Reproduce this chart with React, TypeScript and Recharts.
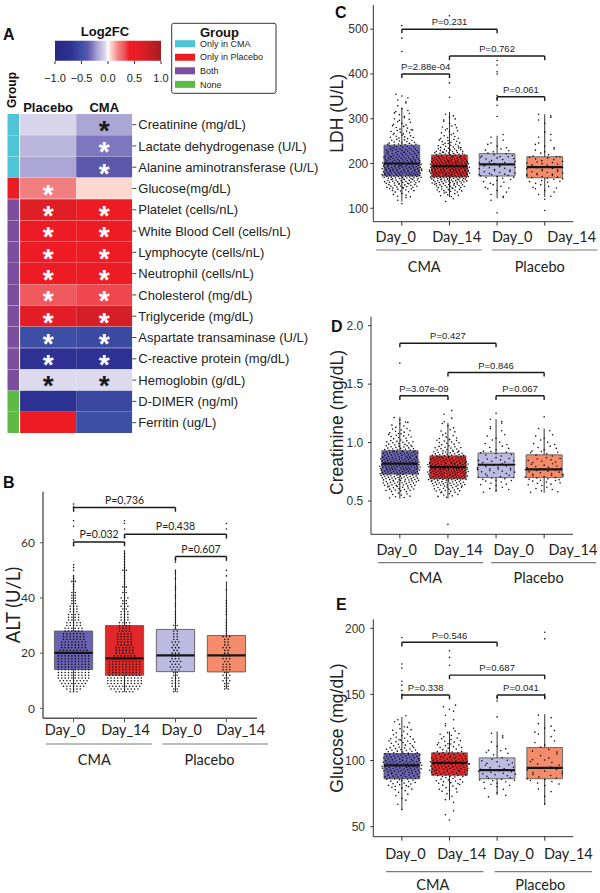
import React from 'react';
import {
  ComposedChart, BarChart, Bar, Cell, XAxis, YAxis, Scatter,
  ReferenceArea, ReferenceLine, LabelList,
} from 'recharts';

/* ================= Panel A : heatmap data ================= */
const heatRows = [
  'Creatinine (mg/dL)', 'Lactate dehydrogenase (U/L)', 'Alanine aminotransferase (U/L)',
  'Glucose(mg/dL)', 'Platelet (cells/nL)', 'White Blood Cell (cells/nL)', 'Lymphocyte (cells/nL)',
  'Neutrophil (cells/nL)', 'Cholesterol (mg/dL)', 'Triglyceride (mg/dL)',
  'Aspartate transaminase (U/L)', 'C-reactive protein (mg/dL)', 'Hemoglobin (g/dL)',
  'D-DIMER (ng/ml)', 'Ferritin (ug/L)',
];
const heatGroup = ['CMA', 'CMA', 'CMA', 'Placebo', 'Both', 'Both', 'Both', 'Both', 'Both', 'Both', 'Both', 'Both', 'Both', 'None', 'None'];
const placeboLog2FC = [-0.065, -0.15, -0.2, 0.2, 0.62, 0.45, 0.45, 0.45, 0.3, 0.58, -0.5, -0.7, -0.05, -0.72, 0.45];
const cmaLog2FC = [-0.2, -0.3, -0.38, 0.05, 0.45, 0.45, 0.45, 0.45, 0.33, 0.7, -0.53, -0.72, -0.05, -0.55, -0.5];
const placeboSig = [false, false, false, true, true, true, true, true, true, true, true, true, true, false, false];
const cmaSig = [true, true, true, false, true, true, true, true, true, true, true, true, true, false, false];
const heatColumns = ['Placebo', 'CMA'];
const legendKeys = ['CMA', 'Placebo', 'Both', 'None'];
const legendLabels = ['Only in CMA', 'Only in Placebo', 'Both', 'None'];
const colorbarTicks = [-1, -0.5, 0, 0.5, 1];

/* ================= Panels B-E : box plot data ================= */
const dayLabels = ['Day_0', 'Day_14', 'Day_0', 'Day_14'];
const armLabels = ['CMA', 'Placebo'];

// B  ALT (U/L)
const altQ1 = [14.1, 12, 13.3, 13.2];
const altMedian = [20.1, 18.1, 19.2, 19.2];
const altQ3 = [28, 30, 28.6, 26.4];
const altLow = [6, 6, 6, 7];
const altHigh = [48, 57, 50, 46];
const altCmaDay0 = [[6,3],[7,5],[8,7],[9,8],[10,9],[11,10],[12,10],[13,10],[14,10],[15,10],[16,10],[17,10],[18,10],[19,10],[20,9],[21,9],[22,8],[23,8],[24,8],[25,7],[26,7],[27,7],[28,6],[29,6],[30,5],[31,5],[32,4],[33,4],[34,4],[35,3],[36,3],[37,3],[38,2],[39,2],[40,2],[41,2],[42,2],[43,1],[44,1],[45,1],[46,2],[47,1],[48,1],[50,1],[51,1],[52,1],[59,1],[61,1],[66,1],[68,1],[73,1],[74,1]];
const altCmaDay14 = [[6,6],[7,9],[8,10],[9,11],[10,11],[11,11],[12,10],[13,10],[14,10],[15,10],[16,10],[17,10],[18,7],[19,7],[20,6],[21,6],[22,6],[23,5],[24,5],[25,5],[26,5],[27,5],[28,4],[29,4],[30,4],[31,4],[32,3],[33,3],[34,3],[35,3],[36,2],[37,3],[38,2],[39,2],[40,3],[41,1],[42,2],[43,1],[44,2],[45,1],[46,1],[47,1],[48,1],[49,1],[50,2],[51,1],[52,1],[53,1],[54,1],[55,1],[56,1],[57,1],[60,1],[62,1],[65,1],[67,1],[68,1]];
const altPlaceboDay0 = [[6,2],[7,2],[8,3],[9,3],[10,3],[11,3],[12,2],[13,2],[14,3],[15,4],[16,3],[17,4],[18,3],[19,3],[20,3],[21,2],[22,3],[23,2],[24,3],[25,2],[26,2],[27,2],[28,2],[29,1],[30,2],[31,1],[32,1],[33,1],[34,1],[35,1],[37,1],[38,1],[40,1],[41,1],[43,1],[44,1],[47,1],[49,1],[50,1],[53,1],[54,1]];
const altPlaceboDay14 = [[7,2],[8,2],[9,2],[10,3],[11,2],[12,3],[13,2],[14,3],[15,3],[16,3],[17,2],[18,3],[19,3],[20,2],[21,2],[22,3],[23,2],[24,2],[25,2],[26,3],[27,1],[28,1],[29,1],[30,1],[31,1],[32,1],[34,1],[35,1],[36,1],[37,1],[38,1],[39,1],[43,1],[48,1],[50,1],[65,1],[67,1]];

// C  LDH (U/L)
const ldhQ1 = [172, 170, 172, 168];
const ldhMedian = [200, 194, 198, 192];
const ldhQ3 = [241, 219, 222, 215];
const ldhLow = [115, 125, 122, 125];
const ldhHigh = [325, 315, 262, 310];
const ldhCmaDay0 = [[110,1],[120,2],[130,5],[140,10],[150,16],[160,22],[170,28],[180,30],[190,30],[200,28],[210,24],[220,20],[230,17],[240,14],[250,11],[260,9],[270,8],[280,6],[290,5],[300,4],[310,4],[320,3],[330,2],[340,2],[350,3],[450,1],[480,1],[508,1]];
const ldhCmaDay14 = [[120,2],[130,6],[140,12],[150,18],[160,26],[170,32],[180,36],[190,36],[200,32],[210,26],[220,18],[230,14],[240,10],[250,8],[260,6],[270,5],[280,4],[290,3],[300,3],[310,2],[348,1],[380,1],[530,1]];
const ldhPlaceboDay0 = [[90,1],[120,2],[130,2],[140,3],[150,4],[160,5],[170,7],[180,8],[190,8],[200,8],[210,7],[220,6],[230,4],[240,3],[250,2],[260,2],[305,1],[330,1],[345,1],[352,1],[400,1],[405,1],[420,1],[430,1]];
const ldhPlaceboDay14 = [[95,1],[120,1],[130,2],[140,3],[150,4],[160,6],[170,8],[180,8],[190,8],[200,8],[210,6],[220,4],[230,3],[240,3],[250,2],[260,2],[270,1],[290,1],[300,2],[310,2]];

// D  Creatinine (mg/dL)
const creQ1 = [0.73, 0.69, 0.70, 0.70];
const creMedian = [0.82, 0.79, 0.81, 0.77];
const creQ3 = [0.93, 0.886, 0.91, 0.895];
const creLow = [0.52, 0.52, 0.58, 0.57];
const creHigh = [1.22, 1.17, 1.2, 1.12];
const creCmaDay0 = [[0.55,8],[0.6,16],[0.65,24],[0.7,32],[0.75,36],[0.8,38],[0.85,34],[0.9,28],[0.95,20],[1.0,14],[1.05,10],[1.1,8],[1.15,5],[1.2,3],[1.68,1]];
const creCmaDay14 = [[0.3,1],[0.55,8],[0.6,16],[0.65,26],[0.7,36],[0.75,40],[0.8,40],[0.85,32],[0.9,22],[0.95,14],[1.0,10],[1.05,6],[1.1,4],[1.15,3],[1.2,2],[1.25,2]];
const crePlaceboDay0 = [[0.6,5],[0.65,7],[0.7,9],[0.75,10],[0.8,10],[0.85,9],[0.9,7],[0.95,5],[1.0,4],[1.05,3],[1.1,2],[1.15,2],[1.2,2],[1.25,1]];
const crePlaceboDay14 = [[0.6,6],[0.65,8],[0.7,11],[0.75,11],[0.8,9],[0.85,8],[0.9,6],[0.95,5],[1.0,4],[1.05,3],[1.1,2],[1.22,1]];

// E  Glucose (mg/dL)
const gluQ1 = [86.2, 88.9, 86.2, 86.2];
const gluMedian = [96.3, 98.3, 92.7, 94.5];
const gluQ3 = [105.3, 105.8, 102, 109.8];
const gluLow = [63, 70, 74, 67];
const gluHigh = [133, 122, 122, 135];
const gluCmaDay0 = [[63,1],[68,2],[73,3],[78,7],[83,13],[88,22],[93,30],[98,32],[103,26],[108,18],[113,12],[118,9],[123,6],[128,4],[133,2],[150,1],[153,1],[157,1],[160,1],[170,1],[173,1],[193,1]];
const gluCmaDay14 = [[55,1],[60,2],[70,2],[75,4],[80,7],[85,12],[90,24],[95,30],[100,28],[105,18],[110,10],[115,8],[120,6],[125,2],[130,2],[135,2],[140,3],[172,1],[178,1],[183,1]];
const gluPlaceboDay0 = [[75,3],[80,5],[85,9],[90,10],[95,8],[100,7],[105,4],[110,3],[115,2],[120,2],[133,1],[145,1],[148,1]];
const gluPlaceboDay14 = [[67,1],[73,1],[78,2],[83,5],[88,7],[93,7],[98,5],[103,4],[108,4],[113,3],[118,2],[123,3],[128,2],[133,2],[148,1],[150,1],[192,1],[197,1]];

// significance brackets: [from group, to group, height, label]
const altBrackets = [[1, 3, 72.8, 'P=0,736'], [1, 2, 60.3, 'P=0.032'], [2, 4, 63.1, 'P=0.438'], [3, 4, 55, 'P=0.607']];
const ldhBrackets = [[1, 3, 500, 'P=0.231'], [1, 2, 400, 'P=2.88e-04'], [2, 4, 440, 'P=0.762'], [3, 4, 349, 'P=0.061']];
const creBrackets = [[1, 3, 1.85, 'P=0.427'], [2, 4, 1.6, 'P=0.846'], [1, 2, 1.4, 'P=3.07e-09'], [3, 4, 1.4, 'P=0.067']];
const gluBrackets = [[1, 3, 189.4, 'P=0.546'], [2, 4, 164.6, 'P=0.687'], [1, 2, 149.5, 'P=0.338'], [3, 4, 149.5, 'P=0.041']];

/* ================= styles ================= */
const ARIAL = '"Liberation Sans", Arial, sans-serif';
const CAL = 'Lato, "Liberation Sans", sans-serif';
const BOX_FILLS = ['#6a62b4', '#e0282b', '#bbbae0', '#f48c6c'];
const GROUP_COLORS: Record<string, string> = { CMA: '#4fc4d6', Placebo: '#ec1c24', Both: '#7b4f9e', None: '#5dba47' };
const FC_STOPS: [number, string][] = [
  [-1, '#262a80'], [-0.7, '#2e3192'], [-0.5, '#3d4fa5'], [-0.38, '#5b58ac'], [-0.3, '#7c77bf'],
  [-0.2, '#aba6d4'], [-0.15, '#bbb6dc'], [-0.05, '#dddaee'], [0, '#ffffff'], [0.05, '#fdd8d0'],
  [0.2, '#f27f80'], [0.3, '#f05a5e'], [0.4, '#ed1c24'], [0.5, '#ed1c24'], [0.7, '#d51f26'], [1, '#a31d21'],
];

const hexToRgb = (h: string) => { const n = parseInt(h.slice(1), 16); return [(n >> 16) & 255, (n >> 8) & 255, n & 255]; };
function fcRgb(v: number): number[] {
  const s = FC_STOPS;
  if (v <= s[0][0]) return hexToRgb(s[0][1]);
  for (let i = 1; i < s.length; i++) {
    if (v <= s[i][0]) {
      const t = (v - s[i - 1][0]) / (s[i][0] - s[i - 1][0]);
      const a = hexToRgb(s[i - 1][1]); const b = hexToRgb(s[i][1]);
      return a.map((x, j) => Math.round(x + (b[j] - x) * t));
    }
  }
  return hexToRgb(s[s.length - 1][1]);
}
const fcColor = (v: number) => { const c = fcRgb(v); return `rgb(${c[0]},${c[1]},${c[2]})`; };
const starColor = (v: number) => { const c = fcRgb(v); const l = (0.299 * c[0] + 0.587 * c[1] + 0.114 * c[2]) / 255; return l > 0.655 ? '#1a1a1a' : '#ffffff'; };
const frac = (v: number) => v - Math.floor(v);

/* ================= Panel A components ================= */
const STRIP_W = 0.21;
const GAP_W = 0.018;
const heatData = heatRows.map((name, i) => ({
  name,
  strip: STRIP_W,
  gap: GAP_W,
  placebo: 1,
  cma: 1,
  pStar: placeboSig[i] ? starColor(placeboLog2FC[i]) : '',
  cStar: cmaSig[i] ? starColor(cmaLog2FC[i]) : '',
}));

const StarLabel = (props: any) => {
  const { x, y, width, height, value } = props;
  if (!value) return null;
  return (
    <text x={Number(x) + Number(width) / 2} y={Number(y) + Number(height) / 2 + 15.5} textAnchor="middle"
      fontSize={28} fontWeight="bold" fontFamily={ARIAL} fill={value}>*</text>
  );
};

function Heatmap() {
  return (
    <div style={{ position: 'absolute', left: 0, top: 100 }}>
      <BarChart layout="vertical" width={370} height={340} data={heatData}
        margin={{ top: 2, right: 7.7, bottom: 6.7, left: 7.3 }} barCategoryGap={0}>
        <XAxis type="number" orientation="top" domain={[0, STRIP_W + GAP_W + 2]} allowDataOverflow
          ticks={[STRIP_W + GAP_W + 0.5, STRIP_W + GAP_W + 1.5]} interval={0}
          tickFormatter={(v: number, i: number) => heatColumns[i]}
          axisLine={false} tickLine={false} tickSize={0} tickMargin={2.5} height={12}
          tick={{ fontSize: 13, fontWeight: 'bold', fill: '#111', fontFamily: ARIAL }} />
        <YAxis type="category" dataKey="name" orientation="right" width={230} interval={0}
          axisLine={false} tickLine={{ stroke: '#444' }} tickSize={4} tickMargin={2}
          tick={{ fontSize: 13, fill: '#222', fontFamily: ARIAL, width: 300 }} />
        <Bar dataKey="strip" stackId="h" isAnimationActive={false}>
          {heatGroup.map((g, i) => <Cell key={i} fill={GROUP_COLORS[g]} />)}
        </Bar>
        <Bar dataKey="gap" stackId="h" fill="transparent" isAnimationActive={false} />
        <Bar dataKey="placebo" stackId="h" isAnimationActive={false}>
          {placeboLog2FC.map((v, i) => <Cell key={i} fill={fcColor(v)} />)}
          <LabelList dataKey="pStar" content={StarLabel} />
        </Bar>
        <Bar dataKey="cma" stackId="h" isAnimationActive={false}>
          {cmaLog2FC.map((v, i) => <Cell key={i} fill={fcColor(v)} />)}
          <LabelList dataKey="cStar" content={StarLabel} />
        </Bar>
      </BarChart>
    </div>
  );
}

function Colorbar() {
  const stops = [];
  for (let i = 0; i <= 40; i++) stops.push(<stop key={i} offset={i / 40} stopColor={fcColor(-1 + i / 20)} />);
  return (
    <div style={{ position: 'absolute', left: 40, top: 30 }}>
      <BarChart layout="vertical" width={140} height={60} data={[{ name: 'fc', range: [-1, 1] }]}
        margin={{ top: 10.7, right: 19, bottom: 9, left: 15 }} barCategoryGap={0}>
        <defs>
          <linearGradient id="fcGrad" x1="0" x2="1" y1="0" y2="0">{stops}</linearGradient>
        </defs>
        <XAxis type="number" domain={[-1, 1]} ticks={colorbarTicks} interval={0} height={20}
          tickFormatter={(v: number) => v.toFixed(1).replace('-', '\u2212')}
          axisLine={false} tickLine={{ stroke: '#333' }} tickSize={3} tickMargin={10}
          tick={{ fontSize: 11, fill: '#222', fontFamily: ARIAL }} />
        <YAxis type="category" dataKey="name" hide />
        <Bar dataKey="range" fill="url(#fcGrad)" isAnimationActive={false} />
      </BarChart>
    </div>
  );
}

/* ================= Box plot panels ================= */
function layoutDots(groups: number[][][], step: number, mode: string) {
  const pts: { x: number; y: number }[] = [];
  groups.forEach((bins, gi) => {
    const maxN = Math.max(...bins.map((b) => b[1]));
    bins.forEach(([v, n], bi) => {
      for (let k = 0; k < n; k++) {
        if (mode === 'rows') {
          pts.push({ x: gi + 1 + (k - (n - 1) / 2) * 0.066, y: v });
        } else {
          const w = 0.16 + 0.7 * Math.sqrt(n / maxN);
          const sx = n === 1 ? 0 : ((k + 0.5) / n - 0.5) * w;
          const sy = n === 1 ? 0 : frac(k * 0.618034 + bi * 0.29) - 0.5;
          pts.push({ x: gi + 1 + sx, y: v + sy * step });
        }
      }
    });
  });
  return pts;
}

const DotShape = (p: any) => <circle cx={p.cx} cy={p.cy} r={0.8} fill="#111" />;
const NoShape = () => <g />;

function BoxPanel(cfg: any) {
  const { left, top, width, height, margin, yDomain, yTicks, yFmt, q1, med, q3, lo, hi, dots, step, mode,
    brackets, yFont, yTickMargin, pFont, pSize, axisColor, axisWidth, dayDx, dayDy, groupTicks, groupHalf,
    groupLineDy, groupLabelDx, groupLabelDy } = cfg;
  const pts = layoutDots(dots, step, mode);
  const span = yDomain[1] - yDomain[0];
  const tickLen = span * 0.019;
  const labelPts = brackets.map((b: any) => ({ x: (b[0] + b[1]) / 2, y: b[2], label: b[3] }));
  const DayTick = (p: any) => {
    const i = Math.round(p.payload.value) - 1;
    return (
      <text x={p.x + dayDx[i]} y={p.y + dayDy} textAnchor="middle" fontSize={14.5} fontFamily={CAL} fill="#222">
        {dayLabels[i]}
      </text>
    );
  };
  const GroupTick = (p: any) => {
    const i = p.index !== undefined ? p.index : groupTicks.indexOf(p.payload.value);
    return (
      <g>
        <line x1={p.x - groupHalf} x2={p.x + groupHalf} y1={p.y + groupLineDy} y2={p.y + groupLineDy} stroke="#7a7a7a" strokeWidth={1.2} />
        <text x={p.x + groupLabelDx[i]} y={p.y + groupLabelDy} textAnchor="middle" fontSize={14.5} fontFamily={CAL} fill="#222">
          {armLabels[i]}
        </text>
      </g>
    );
  };
  const PLabel = (p: any) => (
    <text x={p.cx} y={p.cy - 3.8} textAnchor="middle" fontSize={pSize} fontFamily={pFont} fill="#222">{p.payload.label}</text>
  );
  return (
    <div style={{ position: 'absolute', left, top }}>
      <ComposedChart width={width} height={height} margin={margin}>
        <XAxis xAxisId={0} type="number" dataKey="x" domain={[0.4, 4.6]} allowDataOverflow ticks={[1, 2, 3, 4]} interval={0}
          height={26} tickSize={4} tickMargin={2} axisLine={{ stroke: axisColor, strokeWidth: axisWidth }}
          tickLine={{ stroke: axisColor }} tick={DayTick} />
        <XAxis xAxisId="g" type="number" dataKey="x" domain={[0.4, 4.6]} allowDataOverflow ticks={groupTicks} interval={0}
          height={24} tickSize={0} tickMargin={0} axisLine={false} tickLine={false} tick={GroupTick} />
        <YAxis type="number" dataKey="y" domain={yDomain} allowDataOverflow ticks={yTicks} interval={0} width={40}
          tickSize={3} tickMargin={yTickMargin} tickFormatter={yFmt}
          axisLine={{ stroke: axisColor, strokeWidth: axisWidth }} tickLine={{ stroke: axisColor }}
          tick={{ fontSize: 12, fill: '#333', fontFamily: yFont }} />
        {q1.map((v: number, i: number) => (
          <ReferenceArea key={'box' + i} x1={i + 1 - 0.375} x2={i + 1 + 0.375} y1={v} y2={q3[i]}
            fill={BOX_FILLS[i]} fillOpacity={1} stroke="#5c5c5c" strokeWidth={0.9} ifOverflow="visible" />
        ))}
        {q1.map((v: number, i: number) => (
          <ReferenceLine key={'wu' + i} segment={[{ x: i + 1, y: q3[i] }, { x: i + 1, y: hi[i] }]} stroke="#333" strokeWidth={1} ifOverflow="visible" />
        ))}
        {q1.map((v: number, i: number) => (
          <ReferenceLine key={'wl' + i} segment={[{ x: i + 1, y: lo[i] }, { x: i + 1, y: v }]} stroke="#333" strokeWidth={1} ifOverflow="visible" />
        ))}
        <Scatter data={pts} shape={DotShape} isAnimationActive={false} />
        {med.map((v: number, i: number) => (
          <ReferenceLine key={'md' + i} segment={[{ x: i + 1 - 0.375, y: v }, { x: i + 1 + 0.375, y: v }]} stroke="#161616" strokeWidth={2.2} ifOverflow="visible" />
        ))}
        {brackets.map((b: any, i: number) => (
          <ReferenceLine key={'bh' + i} segment={[{ x: b[0], y: b[2] }, { x: b[1], y: b[2] }]} stroke="#1a1a1a" strokeWidth={1.4} ifOverflow="visible" />
        ))}
        {brackets.map((b: any, i: number) => (
          <ReferenceLine key={'bl' + i} segment={[{ x: b[0], y: b[2] }, { x: b[0], y: b[2] - tickLen }]} stroke="#1a1a1a" strokeWidth={1.4} ifOverflow="visible" />
        ))}
        {brackets.map((b: any, i: number) => (
          <ReferenceLine key={'br' + i} segment={[{ x: b[1], y: b[2] }, { x: b[1], y: b[2] - tickLen }]} stroke="#1a1a1a" strokeWidth={1.4} ifOverflow="visible" />
        ))}
        <Scatter data={labelPts} shape={PLabel} isAnimationActive={false} />
        <Scatter xAxisId="g" data={[{ x: 2.5, y: yDomain[0] }]} shape={NoShape} isAnimationActive={false} />
      </ComposedChart>
    </div>
  );
}

/* ================= Overlay text (panel letters, titles, legend) ================= */
function Overlay() {
  const letter = { fontFamily: ARIAL, fontWeight: 'bold' as const, fontSize: 16, fill: '#111' };
  return (
    <svg width={600} height={893} style={{ position: 'absolute', left: 0, top: 0 }}>
      <text x={3} y={40} {...letter}>A</text>
      <text x={3} y={488} {...letter}>B</text>
      <text x={335} y={18} {...letter}>C</text>
      <text x={331} y={332} {...letter}>D</text>
      <text x={336} y={610} {...letter}>E</text>
      <text x={105} y={36} textAnchor="middle" fontFamily={ARIAL} fontWeight="bold" fontSize={13} fill="#111">Log2FC</text>
      <rect x={171.7} y={23.3} width={104.3} height={70} fill="#fff" stroke="#333" strokeWidth={1} rx={2} />
      <text x={200} y={37} fontFamily={ARIAL} fontWeight="bold" fontSize={13} fill="#111">Group</text>
      {legendKeys.map((k, i) => {
        const cy = 43.7 + i * 13.55;
        return (
          <g key={k}>
            <rect x={175} y={cy - 3.5} width={20} height={7} fill={GROUP_COLORS[k]} />
            <text x={200} y={cy + 3.2} fontFamily={ARIAL} fontSize={9} fill="#222">{legendLabels[i]}</text>
          </g>
        );
      })}
      <text transform="translate(16,90) rotate(-90)" textAnchor="middle" fontFamily={ARIAL} fontWeight="bold" fontSize={12} fill="#111">Group</text>
      <text transform="translate(19.5,605) rotate(-90)" textAnchor="middle" fontFamily={CAL} fontSize={18.5} fill="#222">ALT (U/L)</text>
      <text transform="translate(343,113.3) rotate(-90)" textAnchor="middle" fontFamily={ARIAL} fontSize={17.5} fill="#222">LDH (U/L)</text>
      <text transform="translate(342.6,422.5) rotate(-90)" textAnchor="middle" fontFamily={ARIAL} fontSize={17.5} fill="#222">Creatinine (mg/dL)</text>
      <text transform="translate(342.6,728) rotate(-90)" textAnchor="middle" fontFamily={ARIAL} fontSize={17.5} fill="#222">Glucose (mg/dL)</text>
    </svg>
  );
}

export default function App() {
  return (
    <div style={{ position: 'absolute', left: 0, top: 0, width: 600, height: 893, background: '#fff', overflow: 'hidden' }}>
      <Overlay />
      <Heatmap />
      <Colorbar />
      <BoxPanel
        left={0} top={470} width={300} height={300} margin={{ top: 21.7, right: 43, bottom: 1.7, left: 3 }}
        yDomain={[-3.6, 78.5]} yTicks={[0, 20, 40, 60]} yFmt={(v: number) => String(v)}
        q1={altQ1} med={altMedian} q3={altQ3} lo={altLow} hi={altHigh}
        dots={[altCmaDay0, altCmaDay14, altPlaceboDay0, altPlaceboDay14]} step={1} mode="rows"
        brackets={altBrackets} yFont={CAL} yTickMargin={5} pFont={CAL} pSize={10.5}
        axisColor="#555" axisWidth={1.4} dayDx={[-8.6, 1.1, 6.3, 14.3]} dayDy={11.1}
        groupTicks={[1.5, 3.78]} groupHalf={53} groupLineDy={-0.3} groupLabelDx={[-4.7, -5.7]} groupLabelDy={20.9}
      />
      <BoxPanel
        left={300} top={0} width={300} height={280} margin={{ top: 5, right: 26.7, bottom: 8.3, left: 33.3 }}
        yDomain={[70, 554]} yTicks={[100, 200, 300, 400, 500]} yFmt={(v: number) => String(v)}
        q1={ldhQ1} med={ldhMedian} q3={ldhQ3} lo={ldhLow} hi={ldhHigh}
        dots={[ldhCmaDay0, ldhCmaDay14, ldhPlaceboDay0, ldhPlaceboDay14]} step={10} mode="jitter"
        brackets={ldhBrackets} yFont={ARIAL} yTickMargin={2} pFont={ARIAL} pSize={9.5}
        axisColor="#333" axisWidth={1} dayDx={[-6.1, 7.2, 15, 27]} dayDy={14.4}
        groupTicks={[1.57, 4.0]} groupHalf={52.8} groupLineDy={2.3} groupLabelDx={[-4.8, -5]} groupLabelDy={24.2}
      />
      <BoxPanel
        left={300} top={290} width={300} height={300} margin={{ top: 26.7, right: 27, bottom: 5.7, left: 31 }}
        yDomain={[0.215, 2.077]} yTicks={[0.5, 1, 1.5, 2]} yFmt={(v: number) => v.toFixed(1)}
        q1={creQ1} med={creMedian} q3={creQ3} lo={creLow} hi={creHigh}
        dots={[creCmaDay0, creCmaDay14, crePlaceboDay0, crePlaceboDay14]} step={0.05} mode="jitter"
        brackets={creBrackets} yFont={ARIAL} yTickMargin={4.7} pFont={ARIAL} pSize={9.5}
        axisColor="#333" axisWidth={1} dayDx={[-3.2, 10.3, 17.7, 28.8]} dayDy={15.1}
        groupTicks={[1.64, 3.99]} groupHalf={52.5} groupLineDy={2.4} groupLabelDx={[-5, -5]} groupLabelDy={22.4}
      />
      <BoxPanel
        left={300} top={600} width={300} height={293} margin={{ top: 19.3, right: 26.7, bottom: 6.3, left: 33.3 }}
        yDomain={[42.4, 206.8]} yTicks={[50, 100, 150, 200]} yFmt={(v: number) => String(v)}
        q1={gluQ1} med={gluMedian} q3={gluQ3} lo={gluLow} hi={gluHigh}
        dots={[gluCmaDay0, gluCmaDay14, gluPlaceboDay0, gluPlaceboDay14]} step={5} mode="jitter"
        brackets={gluBrackets} yFont={ARIAL} yTickMargin={5.3} pFont={ARIAL} pSize={9.5}
        axisColor="#333" axisWidth={1} dayDx={[3.6, 12.2, 16.7, 23.6]} dayDy={16}
        groupTicks={[1.69, 3.97]} groupHalf={48.6} groupLineDy={9} groupLabelDx={[-2, -3]} groupLabelDy={27.5}
      />
    </div>
  );
}
